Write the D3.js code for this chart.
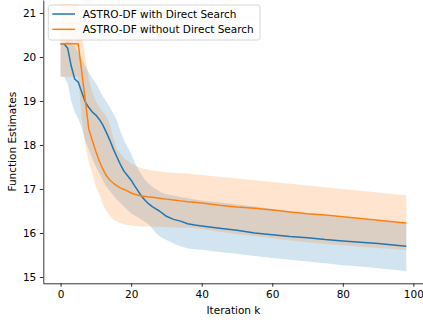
<!DOCTYPE html>
<html>
<head>
<meta charset="utf-8">
<script src="https://cdn.jsdelivr.net/npm/d3@7"></script>
<style>
  body { margin: 0; background: white; }
  svg { display: block; font-family: "DejaVu Sans", sans-serif; }
</style>
</head>
<body>
<svg id="chart" width="423" height="322"></svg>
<script>
const iters = [0,1,2,3,4,5,6,7,8,9,10,11,12,13,14,15,16,17,18,19,20,21,22,23,24,25,26,27,28,29,30,32,34,36,38,40,45,50,55,60,65,70,75,80,85,90,95,98];

// ASTRO-DF with Direct Search
const withMean = [20.3,20.3,20.2,19.8,19.5,19.43,19.2,18.98,18.85,18.75,18.68,18.58,18.45,18.28,18.1,17.9,17.72,17.55,17.4,17.3,17.2,17.07,16.95,16.83,16.74,16.66,16.6,16.55,16.5,16.44,16.38,16.31,16.27,16.21,16.18,16.16,16.11,16.06,16.0,15.96,15.92,15.89,15.85,15.82,15.79,15.76,15.72,15.70];
const withLo = [19.55,19.55,19.4,19.0,18.75,18.6,18.4,18.1,17.9,17.7,17.5,17.35,17.2,17.05,16.95,16.85,16.75,16.68,16.6,16.52,16.45,16.4,16.35,16.3,16.25,16.2,16.1,16.0,15.93,15.88,15.84,15.76,15.7,15.65,15.63,15.62,15.57,15.53,15.48,15.43,15.39,15.35,15.31,15.27,15.24,15.2,15.16,15.13];
const withHi = [20.3,20.32,20.35,20.3,20.25,20.1,19.95,19.8,19.65,19.52,19.4,19.25,19.1,18.98,18.85,18.7,18.55,18.3,18.1,17.95,17.8,17.6,17.45,17.32,17.2,17.12,17.05,17.0,16.95,16.91,16.88,16.85,16.82,16.79,16.76,16.74,16.7,16.65,16.6,16.55,16.49,16.44,16.39,16.35,16.31,16.27,16.24,16.22];

// ASTRO-DF without Direct Search
const withoutMean = [20.3,20.3,20.3,20.3,20.3,20.3,19.66,19.02,18.36,18.1,17.85,17.63,17.45,17.3,17.2,17.13,17.07,17.02,16.99,16.95,16.91,16.88,16.86,16.84,16.83,16.82,16.81,16.8,16.79,16.78,16.77,16.75,16.73,16.71,16.7,16.68,16.63,16.59,16.56,16.52,16.48,16.44,16.41,16.37,16.33,16.29,16.25,16.23];
const withoutLo = [19.55,19.55,19.55,19.55,19.55,19.55,18.6,18.0,17.6,17.35,17.05,16.88,16.65,16.5,16.4,16.3,16.26,16.22,16.2,16.18,16.17,16.16,16.16,16.15,16.15,16.15,16.15,16.14,16.14,16.14,16.13,16.13,16.12,16.12,16.11,16.09,16.03,15.97,15.93,15.88,15.83,15.79,15.75,15.72,15.69,15.66,15.63,15.61];
const withoutHi = [21.2,21.2,21.2,21.2,21.2,21.2,20.6,20.0,19.5,19.2,19.0,18.85,18.75,18.65,18.45,18.15,17.9,17.8,17.7,17.64,17.58,17.54,17.5,17.47,17.45,17.43,17.42,17.41,17.4,17.39,17.38,17.37,17.36,17.35,17.33,17.32,17.28,17.24,17.2,17.16,17.12,17.08,17.04,17.0,16.96,16.92,16.88,16.86];

const xTicks = [0, 20, 40, 60, 80, 100];
const yTicks = [15, 16, 17, 18, 19, 20, 21];
const seriesNames = ["ASTRO-DF with Direct Search", "ASTRO-DF without Direct Search"];

const blue = "#1f77b4";
const orange = "#ff7f0e";
const fontSize = "10.5px";

const svg = d3.select("#chart");
const axLeft = 43.3, axRight = 423.6, axTop = 0, axBottom = 283.3;

const x = d3.scaleLinear().domain([-4.9, 102.9]).range([axLeft, axRight]);
const y = d3.scaleLinear().domain([14.857, 21.295]).range([axBottom, axTop]);

function rows(mean, lo, hi) {
  return iters.map((k, i) => ({ k: k, m: mean[i], lo: lo[i], hi: hi[i] }));
}
const series = [
  { name: seriesNames[0], color: blue, data: rows(withMean, withLo, withHi) },
  { name: seriesNames[1], color: orange, data: rows(withoutMean, withoutLo, withoutHi) }
];

const band = d3.area().x(d => x(d.k)).y0(d => y(d.lo)).y1(d => y(d.hi));
const line = d3.line().x(d => x(d.k)).y(d => y(d.m));

svg.append("clipPath").attr("id", "clip")
  .append("rect").attr("x", axLeft).attr("y", axTop)
  .attr("width", axRight - axLeft).attr("height", axBottom - axTop);

const plot = svg.append("g").attr("clip-path", "url(#clip)");

series.forEach(s => {
  plot.append("path").datum(s.data)
    .attr("d", band)
    .attr("fill", s.color)
    .attr("fill-opacity", 0.2);
});
series.forEach(s => {
  plot.append("path").datum(s.data)
    .attr("d", line)
    .attr("fill", "none")
    .attr("stroke", s.color)
    .attr("stroke-width", 1.5)
    .attr("stroke-linejoin", "round");
});

// axes
const xAxis = svg.append("g").attr("transform", "translate(0," + axBottom + ")")
  .call(d3.axisBottom(x).tickValues(xTicks).tickFormat(d3.format("d"))
    .tickSize(3.5).tickPadding(3.5).tickSizeOuter(0));
const yAxis = svg.append("g").attr("transform", "translate(" + axLeft + ",0)")
  .call(d3.axisLeft(y).tickValues(yTicks).tickFormat(d3.format("d"))
    .tickSize(3.5).tickPadding(3.5).tickSizeOuter(0));

[xAxis, yAxis].forEach(a => {
  a.selectAll("path.domain").attr("stroke", "black").attr("stroke-width", 0.8);
  a.selectAll(".tick line").attr("stroke", "black").attr("stroke-width", 0.8);
  a.selectAll(".tick text").attr("fill", "black")
    .style("font-size", fontSize).style("font-family", "DejaVu Sans");
});

svg.append("text")
  .attr("x", (axLeft + axRight) / 2).attr("y", 314)
  .attr("text-anchor", "middle")
  .style("font-size", fontSize)
  .text("Iteration k");

svg.append("text")
  .attr("transform", "translate(16," + ((axTop + axBottom) / 2) + ") rotate(-90)")
  .attr("text-anchor", "middle")
  .style("font-size", fontSize)
  .text("Function Estimates");

// legend
const legend = svg.append("g").attr("transform", "translate(48.3,5)");
legend.append("rect")
  .attr("width", 211.7).attr("height", 35)
  .attr("rx", 2.5).attr("ry", 2.5)
  .attr("fill", "white").attr("fill-opacity", 0.8)
  .attr("stroke", "#cccccc").attr("stroke-width", 0.8);

series.forEach((s, i) => {
  const yy = 9 + i * 15.3;
  legend.append("line")
    .attr("x1", 4).attr("x2", 26.7)
    .attr("y1", yy).attr("y2", yy)
    .attr("stroke", s.color).attr("stroke-width", 1.5);
  legend.append("text")
    .attr("x", 34.4).attr("y", yy)
    .attr("dy", "0.35em")
    .style("font-size", fontSize)
    .text(s.name);
});
</script>
</body>
</html>
